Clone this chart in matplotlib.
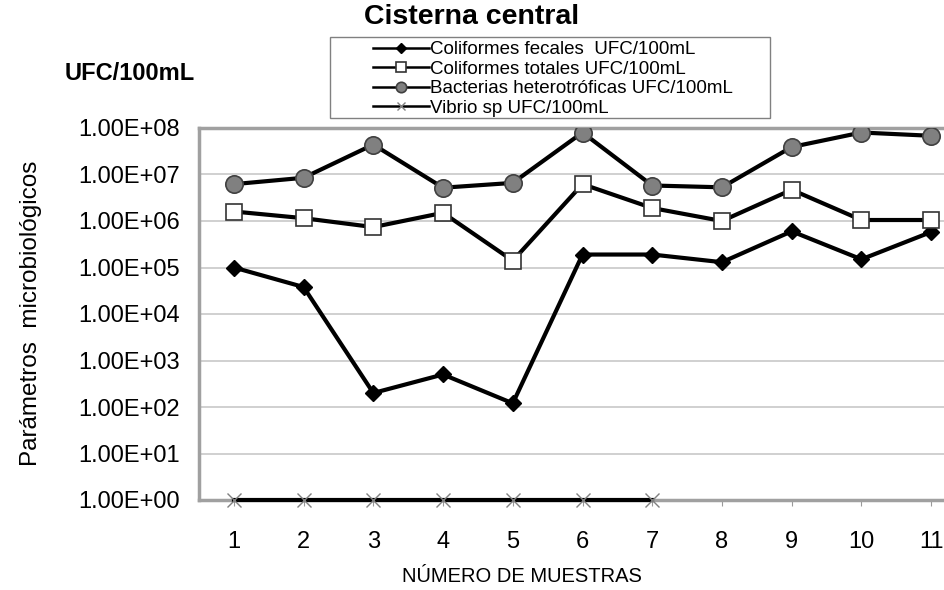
import numpy as np
import matplotlib
matplotlib.use("Agg")
import matplotlib.pyplot as plt
from matplotlib.patches import Rectangle
from matplotlib.ticker import FuncFormatter, FixedLocator

plt.rcParams["font.family"] = ["Liberation Sans", "DejaVu Sans"]

muestras = [1, 2, 3, 4, 5, 6, 7, 8, 9, 10, 11]
fecales = [1.0e5, 3.8e4, 2.0e2, 5.0e2, 1.2e2, 1.9e5, 1.9e5, 1.3e5, 6.0e5, 1.5e5, 5.8e5]
totales = [1.6e6, 1.15e6, 7.4e5, 1.5e6, 1.4e5, 6.2e6, 1.9e6, 1.0e6, 4.7e6, 1.05e6, 1.05e6]
heterotrof = [6.2e6, 8.5e6, 4.4e7, 5.2e6, 6.6e6, 8.0e7, 5.8e6, 5.3e6, 3.9e7, 8.0e7, 6.8e7]
vibrio_x = [1, 2, 3, 4, 5, 6, 7]
vibrio = [1, 1, 1, 1, 1, 1, 1]
labels = ["Coliformes fecales  UFC/100mL", "Coliformes totales UFC/100mL",
          "Bacterias heterotróficas UFC/100mL", "Vibrio sp UFC/100mL"]

fig = plt.figure(figsize=(9.44, 5.9), dpi=100)
ax = fig.add_axes([199 / 944, 90 / 590, 767 / 944, 372 / 590])

lw = 3.0
h1, = ax.plot(muestras, fecales, color="black", lw=lw, marker="D", ms=8,
              mfc="black", mec="black", zorder=4)
h2, = ax.plot(muestras, totales, color="black", lw=lw, marker="s", ms=12,
              mfc="white", mec="#333333", mew=1.2, zorder=4)
h3, = ax.plot(muestras, heterotrof, color="black", lw=lw, marker="o", ms=12.5,
              mfc="#808080", mec="#404040", mew=1.2, zorder=4)
h4, = ax.plot(vibrio_x, vibrio, color="black", lw=lw, marker="x", ms=10,
              mec="#808080", mew=1.0, zorder=5, clip_on=False)

ax.set_yscale("log")
ax.set_ylim(1, 1e8)
ax.set_xlim(0.5, 11.5)
ax.yaxis.set_major_locator(FixedLocator([10.0 ** k for k in range(9)]))
ax.yaxis.set_minor_locator(FixedLocator([]))
ax.yaxis.set_major_formatter(FuncFormatter(lambda v, p: f"{v:.2E}"))
ax.set_xticks(muestras)
ax.tick_params(axis="y", length=0, labelsize=17, pad=14)
ax.tick_params(axis="x", length=4, color="#999999", labelsize=17, pad=18)
ax.grid(axis="y", color="#c8c8c8", lw=1.2)
ax.set_axisbelow(True)

for s in ["left", "top", "bottom"]:
    ax.spines[s].set_color("#a0a0a0")
    ax.spines[s].set_linewidth(2.5)
ax.spines["right"].set_visible(False)

fig.text(472 / 944, 1 - 17 / 590, "Cisterna central", ha="center", va="center",
         fontsize=20.5, fontweight="bold")
fig.text(65 / 944, 1 - 73 / 590, "UFC/100mL", ha="left", va="center",
         fontsize=17, fontweight="bold")
fig.text(31 / 944, 1 - 313 / 590, "Parámetros  microbiológicos", ha="center", va="center",
         rotation=90, fontsize=17.5)
fig.text(522 / 944, 1 - 576 / 590, "NÚMERO DE MUESTRAS", ha="center", va="center",
         fontsize=14.5)

fig.patches.append(Rectangle((330 / 944, 1 - 118 / 590), 440 / 944, 81 / 590,
                             transform=fig.transFigure, fill=False,
                             edgecolor="#808080", lw=1))
leg = fig.legend([h1, h2, h3, h4], labels, loc="upper left",
                 bbox_to_anchor=(360 / 944, 1 - 28 / 590), frameon=False,
                 fontsize=13.5, handlelength=3.0, handletextpad=0.05,
                 labelspacing=0.13, borderpad=0.2, markerscale=0.6)
for ln in leg.get_lines():
    ln.set_linewidth(1.8)

fig.savefig("out.png", dpi=100)
